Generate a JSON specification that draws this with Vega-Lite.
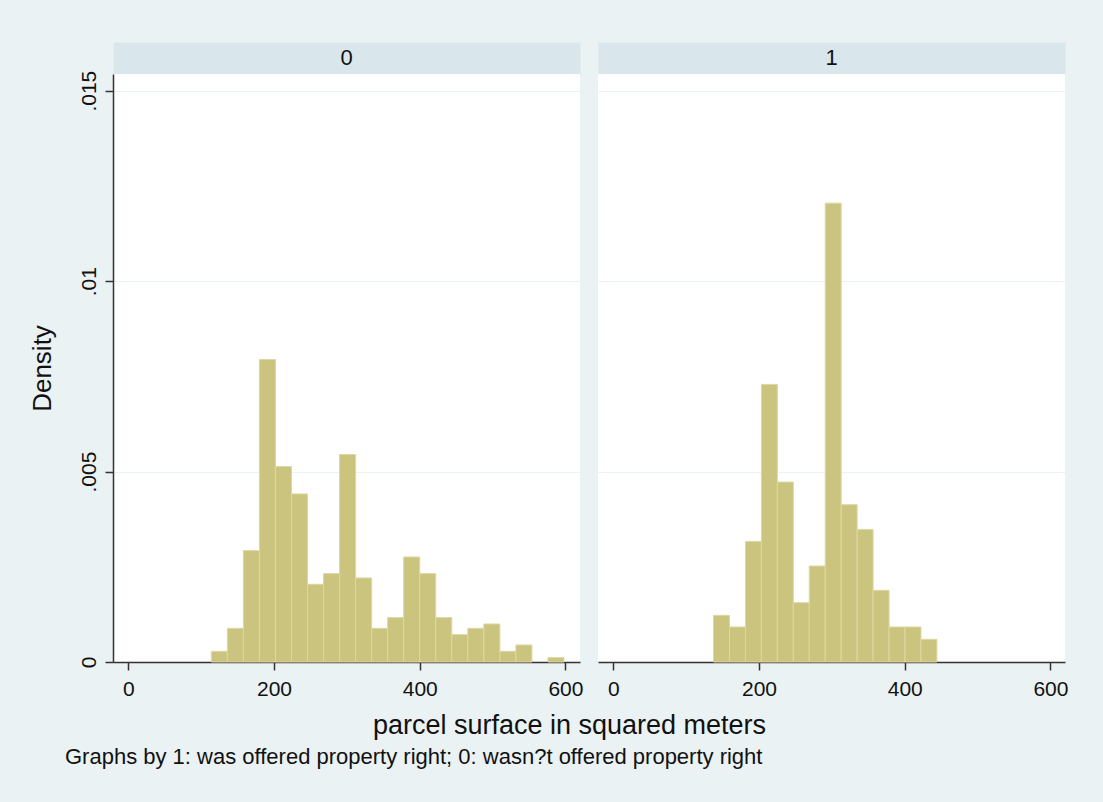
{
  "$schema": "https://vega.github.io/schema/vega-lite/v6.json",
  "background": "#EAF2F3",
  "padding": {"left": 29, "top": 41, "right": 44, "bottom": 34},
  "autosize": {"type": "pad"},
  "config": {
    "font": "Liberation Sans",
    "view": {"stroke": null},
    "axis": {
      "labelFont": "Liberation Sans",
      "titleFont": "Liberation Sans",
      "labelColor": "#111111",
      "titleColor": "#111111",
      "titleFontWeight": "normal",
      "domainColor": "#333333",
      "tickColor": "#333333",
      "gridColor": "#EAF2F3",
      "gridWidth": 1.2
    }
  },
  "datasets": {
    "g0": [
      {"bin_start": 114, "bin_end": 136, "density": 0.00028},
      {"bin_start": 136, "bin_end": 158, "density": 0.000884},
      {"bin_start": 158, "bin_end": 180, "density": 0.002925},
      {"bin_start": 180, "bin_end": 202, "density": 0.007942},
      {"bin_start": 202, "bin_end": 224, "density": 0.005131},
      {"bin_start": 224, "bin_end": 246, "density": 0.004413},
      {"bin_start": 246, "bin_end": 268, "density": 0.00204},
      {"bin_start": 268, "bin_end": 290, "density": 0.00232},
      {"bin_start": 290, "bin_end": 312, "density": 0.005447},
      {"bin_start": 312, "bin_end": 334, "density": 0.002207},
      {"bin_start": 334, "bin_end": 356, "density": 0.000884},
      {"bin_start": 356, "bin_end": 378, "density": 0.001165},
      {"bin_start": 378, "bin_end": 400, "density": 0.002758},
      {"bin_start": 400, "bin_end": 422, "density": 0.00232},
      {"bin_start": 422, "bin_end": 444, "density": 0.001165},
      {"bin_start": 444, "bin_end": 466, "density": 0.000718},
      {"bin_start": 466, "bin_end": 488, "density": 0.000884},
      {"bin_start": 488, "bin_end": 510, "density": 0.000998},
      {"bin_start": 510, "bin_end": 532, "density": 0.00028},
      {"bin_start": 532, "bin_end": 554, "density": 0.000447},
      {"bin_start": 576, "bin_end": 598, "density": 0.000114}
    ],
    "g1": [
      {"bin_start": 137.6, "bin_end": 159.5, "density": 0.001225},
      {"bin_start": 159.5, "bin_end": 181.4, "density": 0.000919},
      {"bin_start": 181.4, "bin_end": 203.3, "density": 0.003167},
      {"bin_start": 203.3, "bin_end": 225.2, "density": 0.007288},
      {"bin_start": 225.2, "bin_end": 247.1, "density": 0.004724},
      {"bin_start": 247.1, "bin_end": 269.0, "density": 0.001557},
      {"bin_start": 269.0, "bin_end": 290.9, "density": 0.00252},
      {"bin_start": 290.9, "bin_end": 312.8, "density": 0.012047},
      {"bin_start": 312.8, "bin_end": 334.7, "density": 0.00413},
      {"bin_start": 334.7, "bin_end": 356.6, "density": 0.003482},
      {"bin_start": 356.6, "bin_end": 378.5, "density": 0.001881},
      {"bin_start": 378.5, "bin_end": 400.4, "density": 0.000919},
      {"bin_start": 400.4, "bin_end": 422.3, "density": 0.000919},
      {"bin_start": 422.3, "bin_end": 444.2, "density": 0.000595}
    ]
  },
  "title": {
    "text": "Graphs by 1: was offered property right; 0: wasn?t offered property right",
    "orient": "bottom",
    "anchor": "start",
    "frame": "bounds",
    "font": "Liberation Sans",
    "fontSize": 22,
    "fontWeight": "normal",
    "color": "#111111",
    "offset": 9,
    "dx": 36
  },
  "columns": 2,
  "spacing": {"row": 0, "column": 18},
  "bounds": "flush",
  "concat": [
    {
      "width": 467,
      "height": 32,
      "view": {"fill": "#D9E6EB", "stroke": "#E3ECEF"},
      "data": {"values": [{"label": "0"}]},
      "mark": {"type": "text", "fontSize": 22, "color": "#111111", "font": "Liberation Sans"},
      "encoding": {"text": {"field": "label", "type": "nominal"}}
    },
    {
      "width": 467,
      "height": 32,
      "view": {"fill": "#D9E6EB", "stroke": "#E3ECEF"},
      "data": {"values": [{"label": "1"}]},
      "mark": {"type": "text", "fontSize": 22, "color": "#111111", "font": "Liberation Sans"},
      "encoding": {"text": {"field": "label", "type": "nominal"}}
    },
    {
      "width": 467,
      "height": 588,
      "view": {"fill": "#FFFFFF", "stroke": null},
      "data": {"name": "g0"},
      "mark": {"type": "rect", "fill": "#CBC47F", "stroke": "#DDD7A2", "strokeWidth": 1},
      "encoding": {
        "x": {
          "field": "bin_start", "type": "quantitative",
          "scale": {"domain": [-21, 620], "nice": false, "zero": false},
          "axis": {
            "values": [0, 200, 400, 600], "grid": false,
            "tickSize": 8, "tickWidth": 1.5, "domainWidth": 1.5,
            "labelFontSize": 21, "labelPadding": 8, "labelFlush": false,
            "title": "parcel surface in squared meters",
            "titleFontSize": 27, "titleX": 456, "titlePadding": 13
          }
        },
        "x2": {"field": "bin_end"},
        "y": {
          "field": "density", "type": "quantitative",
          "scale": {"domain": [0, 0.015438], "nice": false},
          "axis": {
            "values": [0, 0.005, 0.01, 0.015], "grid": true,
            "tickSize": 8, "tickWidth": 1.5, "domainWidth": 1.5,
            "labelFontSize": 21, "labelAngle": 270, "labelAlign": "center", "labelBaseline": "bottom",
            "labelPadding": 6,
            "labelExpr": "datum.value == 0 ? '0' : replace(format(datum.value, '~g'), '0.', '.')",
            "title": "Density", "titleFontSize": 26, "titlePadding": 23
          }
        },
        "y2": {"datum": 0}
      }
    },
    {
      "width": 467,
      "height": 588,
      "view": {"fill": "#FFFFFF", "stroke": null},
      "data": {"name": "g1"},
      "mark": {"type": "rect", "fill": "#CBC47F", "stroke": "#DDD7A2", "strokeWidth": 1},
      "encoding": {
        "x": {
          "field": "bin_start", "type": "quantitative",
          "scale": {"domain": [-21, 620], "nice": false, "zero": false},
          "axis": {
            "values": [0, 200, 400, 600], "grid": false,
            "tickSize": 8, "tickWidth": 1.5, "domainWidth": 1.5,
            "labelFontSize": 21, "labelPadding": 8, "labelFlush": false,
            "title": null
          }
        },
        "x2": {"field": "bin_end"},
        "y": {
          "field": "density", "type": "quantitative",
          "scale": {"domain": [0, 0.015438], "nice": false},
          "axis": {
            "values": [0.005, 0.01, 0.015], "grid": true,
            "domain": false, "ticks": false, "labels": false, "title": null
          }
        },
        "y2": {"datum": 0}
      }
    }
  ]
}
